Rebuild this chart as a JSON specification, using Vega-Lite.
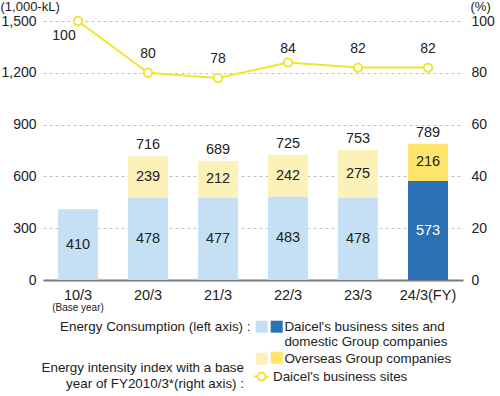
{
  "$schema": "https://vega.github.io/schema/vega-lite/v6.json",
  "width": 420,
  "height": 259,
  "autosize": {"type": "none"},
  "padding": {"left": 43, "top": 21, "right": 37, "bottom": 116},
  "config": {
    "font": "Liberation Sans",
    "view": {"stroke": null},
    "axis": {"labelColor": "#222", "labelFontSize": 14, "ticks": false, "titleFontWeight": "normal", "titleColor": "#222", "titleFontSize": 13},
    "legend": {"labelFont": "Liberation Sans", "titleFont": "Liberation Sans", "labelFontSize": 13.4, "titleFontSize": 13.4, "titleFontWeight": "normal", "labelColor": "#222", "titleColor": "#222", "labelLimit": 400, "titleLimit": 400}
  },
  "datasets": {
    "energy": [
      {"year": "10/3", "segment": "domestic", "value": 410},
      {"year": "20/3", "segment": "domestic", "value": 478},
      {"year": "20/3", "segment": "overseas", "value": 239},
      {"year": "21/3", "segment": "domestic", "value": 477},
      {"year": "21/3", "segment": "overseas", "value": 212},
      {"year": "22/3", "segment": "domestic", "value": 483},
      {"year": "22/3", "segment": "overseas", "value": 242},
      {"year": "23/3", "segment": "domestic", "value": 478},
      {"year": "23/3", "segment": "overseas", "value": 275},
      {"year": "24/3(FY)", "segment": "domestic", "value": 573},
      {"year": "24/3(FY)", "segment": "overseas", "value": 216}
    ],
    "totals": [
      {"year": "20/3", "total": 716},
      {"year": "21/3", "total": 689},
      {"year": "22/3", "total": 725},
      {"year": "23/3", "total": 753},
      {"year": "24/3(FY)", "total": 789}
    ],
    "index": [
      {"year": "10/3", "index": 100},
      {"year": "20/3", "index": 80},
      {"year": "21/3", "index": 78},
      {"year": "22/3", "index": 84},
      {"year": "23/3", "index": 82},
      {"year": "24/3(FY)", "index": 82}
    ],
    "notes": [
      {"year": "10/3", "note": "(Base year)"}
    ]
  },
  "encoding": {
    "x": {
      "field": "year", "type": "nominal",
      "sort": ["10/3", "20/3", "21/3", "22/3", "23/3", "24/3(FY)"],
      "scale": {"domain": ["10/3", "20/3", "21/3", "22/3", "23/3", "24/3(FY)"], "paddingInner": 0.4286, "paddingOuter": 0.2143},
      "axis": {"title": null, "labelAngle": 0, "domain": true, "domainColor": "#7a7a7a", "domainWidth": 2, "labelPadding": 8, "labelFontSize": 14.5, "grid": false}
    }
  },
  "layer": [
    {
      "layer": [
        {
          "data": {"name": "energy"},
          "transform": [{"filter": "datum.year !== '24/3(FY)'"}],
          "mark": {"type": "bar"},
          "encoding": {
            "y": {"field": "value", "type": "quantitative", "stack": "zero",
              "scale": {"domain": [0, 1500], "nice": false},
              "axis": {"title": "(1,000-kL)", "titleAngle": 0, "titleAlign": "left", "titleBaseline": "middle", "titleX": -43, "titleY": -15, "values": [0, 300, 600, 900, 1200, 1500], "format": ",d", "domain": false, "labelPadding": 7, "grid": true, "gridDash": [3, 3], "gridColor": "#c4c4c4", "gridWidth": 1}},
            "order": {"field": "segment", "sort": "ascending"},
            "fill": {"field": "segment", "type": "nominal",
              "scale": {"domain": ["domestic", "overseas"], "range": ["#c5e0f5", "#fbf1b9"]},
              "legend": {"orient": "none", "legendX": 17, "legendY": 299, "direction": "vertical",
                "title": "Energy Consumption (left axis) :", "titleOrient": "left", "titleAnchor": "start", "titleBaseline": "top", "titlePadding": 4,
                "symbolType": "square", "symbolSize": 144, "symbolStrokeWidth": 0, "labelOffset": 16, "rowPadding": 2,
                "labelExpr": "datum.value === 'domestic' ? [\"Daicel's business sites and\", 'domestic Group companies'] : 'Overseas Group companies'"}}
          }
        },
        {
          "data": {"name": "energy"},
          "transform": [{"filter": "datum.year === '24/3(FY)'"}],
          "mark": {"type": "bar"},
          "encoding": {
            "y": {"field": "value", "type": "quantitative", "stack": "zero"},
            "order": {"field": "segment", "sort": "ascending"},
            "fill": {"field": "segment", "type": "nominal",
              "scale": {"domain": ["domestic", "overseas"], "range": ["#2b6fb5", "#fee46b"]},
              "legend": {"orient": "none", "legendX": 227, "legendY": 299, "direction": "vertical", "title": null,
                "symbolType": "square", "symbolSize": 144, "symbolStrokeWidth": 0, "rowPadding": 16, "labelExpr": "''"}}
          }
        },
        {
          "data": {"name": "energy"},
          "transform": [
            {"stack": "value", "groupby": ["year"], "sort": [{"field": "segment", "order": "ascending"}], "as": ["v0", "v1"]},
            {"fold": ["v0", "v1"], "as": ["edge", "pos"]},
            {"aggregate": [{"op": "mean", "field": "pos", "as": "mid"}], "groupby": ["year", "segment", "value"]}
          ],
          "mark": {"type": "text", "fontSize": 14.5, "baseline": "middle"},
          "encoding": {
            "y": {"field": "mid", "type": "quantitative"},
            "text": {"field": "value", "type": "quantitative"},
            "color": {"condition": {"test": "datum.year === '24/3(FY)' && datum.segment === 'domestic'", "value": "#ffffff"}, "value": "#222222"}
          }
        },
        {
          "data": {"name": "totals"},
          "mark": {"type": "text", "fontSize": 14.5, "baseline": "middle", "dy": -11, "color": "#222"},
          "encoding": {
            "y": {"field": "total", "type": "quantitative"},
            "text": {"field": "total", "type": "quantitative"}
          }
        },
        {
          "data": {"name": "notes"},
          "mark": {"type": "text", "fontSize": 10, "baseline": "middle", "dy": 28, "color": "#222"},
          "encoding": {
            "y": {"datum": 0, "type": "quantitative"},
            "text": {"field": "note", "type": "nominal"}
          }
        }
      ],
      "resolve": {"scale": {"fill": "independent"}}
    },
    {
      "data": {"name": "index"},
      "layer": [
        {
          "mark": {"type": "line", "strokeWidth": 2},
          "encoding": {
            "y": {"field": "index", "type": "quantitative",
              "scale": {"domain": [0, 100], "nice": false},
              "axis": {"orient": "right", "title": "(%)", "titleAngle": 0, "titleAlign": "left", "titleBaseline": "middle", "titleX": 7, "titleY": -15, "values": [0, 20, 40, 60, 80, 100], "domain": false, "grid": false, "labelPadding": 8}},
            "stroke": {"datum": "Daicel's business sites", "type": "nominal",
              "scale": {"range": ["#f0e531"]},
              "legend": {"orient": "none", "legendX": -1, "legendY": 347,
                "title": ["Energy intensity index with a base\u00a0\u00a0", "year of FY2010/3*(right axis) :"],
                "titleOrient": "left", "titleAlign": "right", "titlePadding": -194, "titleLineHeight": 15.5,
                "symbolType": "M-1,0L-0.53,0M0.53,0L1,0M-0.53,0A0.53,0.53,0,1,0,0.53,0A0.53,0.53,0,1,0,-0.53,0Z",
                "symbolSize": 225, "symbolStrokeWidth": 2, "symbolFillColor": "#ffffff", "labelOffset": 3}}
          }
        },
        {
          "mark": {"type": "point", "shape": "circle", "filled": true, "fill": "#ffffff", "size": 70, "strokeWidth": 2, "opacity": 1},
          "encoding": {
            "y": {"field": "index", "type": "quantitative"},
            "stroke": {"datum": "Daicel's business sites", "type": "nominal"}
          }
        },
        {
          "transform": [{"filter": "datum.index === 100"}],
          "mark": {"type": "text", "fontSize": 14, "baseline": "middle", "dx": -14, "dy": 15, "color": "#222"},
          "encoding": {"y": {"field": "index", "type": "quantitative"}, "text": {"field": "index", "type": "quantitative"}}
        },
        {
          "transform": [{"filter": "datum.index === 84"}],
          "mark": {"type": "text", "fontSize": 14, "baseline": "middle", "dy": -13, "color": "#222"},
          "encoding": {"y": {"field": "index", "type": "quantitative"}, "text": {"field": "index", "type": "quantitative"}}
        },
        {
          "transform": [{"filter": "datum.index !== 100 && datum.index !== 84"}],
          "mark": {"type": "text", "fontSize": 14, "baseline": "middle", "dy": -19, "color": "#222"},
          "encoding": {"y": {"field": "index", "type": "quantitative"}, "text": {"field": "index", "type": "quantitative"}}
        }
      ]
    }
  ],
  "resolve": {"scale": {"y": "independent"}}
}
